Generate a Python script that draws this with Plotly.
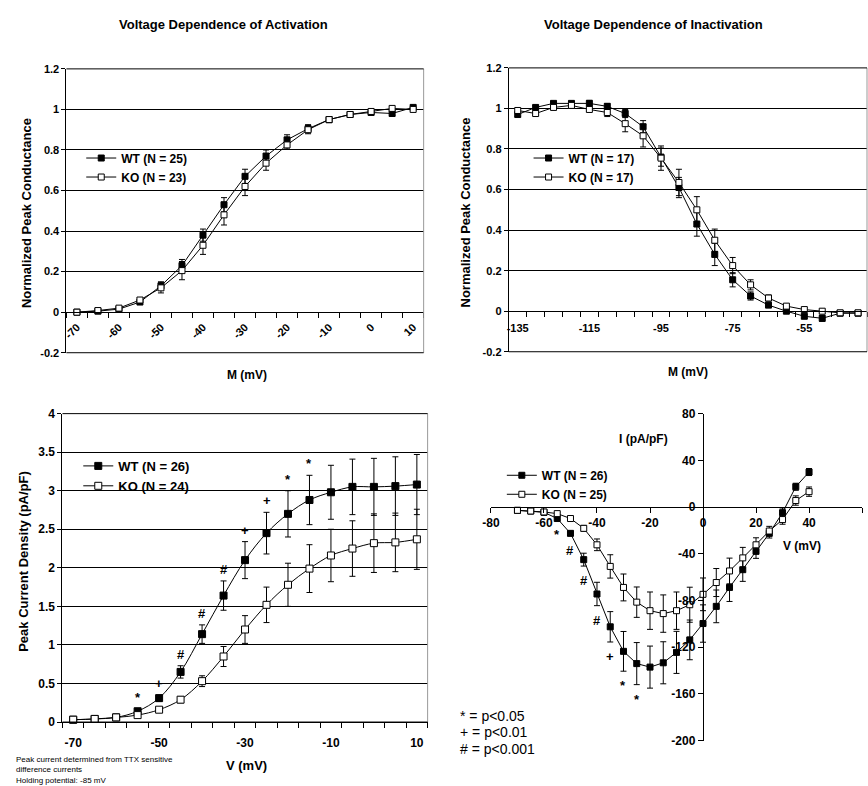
import plotly.graph_objects as go

W, H = 868, 786
def fx(p): return p / W
def fy(p): return 1 - p / H

FONT = "Liberation Sans"

# ---------------- data ----------------
# Panel 1: activation
act_v = [-70, -65, -60, -55, -50, -45, -40, -35, -30, -25, -20, -15, -10, -5, 0, 5, 10]
act_wt = [0.0, 0.005, 0.015, 0.05, 0.13, 0.23, 0.38, 0.53, 0.67, 0.77, 0.85, 0.905, 0.95, 0.975, 0.985, 0.98, 1.01]
act_wt_err = [0.0, 0.003, 0.005, 0.01, 0.02, 0.03, 0.03, 0.035, 0.035, 0.03, 0.025, 0.02, 0.015, 0.01, 0.01, 0.01, 0.01]
act_ko = [0.0, 0.008, 0.02, 0.06, 0.12, 0.205, 0.33, 0.48, 0.62, 0.735, 0.825, 0.9, 0.95, 0.975, 0.99, 1.005, 1.0]
act_ko_err = [0.0, 0.003, 0.005, 0.01, 0.025, 0.045, 0.045, 0.05, 0.045, 0.035, 0.02, 0.02, 0.015, 0.01, 0.01, 0.01, 0.01]
act_ticks = [-70, -60, -50, -40, -30, -20, -10, 0, 10]

# Panel 2: inactivation
inact_v = [-135, -130, -125, -120, -115, -110, -105, -100, -95, -90, -85, -80, -75, -70, -65, -60, -55, -50, -45, -40]
inact_wt = [0.97, 1.005, 1.025, 1.025, 1.025, 1.01, 0.975, 0.91, 0.76, 0.61, 0.43, 0.28, 0.155, 0.075, 0.03, 0.0, -0.025, -0.035, -0.01, -0.01]
inact_wt_err = [0.01, 0.01, 0.01, 0.01, 0.015, 0.015, 0.02, 0.03, 0.045, 0.05, 0.06, 0.055, 0.035, 0.02, 0.01, 0.01, 0.01, 0.015, 0.01, 0.005]
inact_ko = [0.99, 0.975, 1.005, 1.015, 0.995, 0.98, 0.925, 0.865, 0.755, 0.635, 0.5, 0.35, 0.225, 0.13, 0.065, 0.025, 0.008, 0.0, -0.008, -0.008]
inact_ko_err = [0.01, 0.01, 0.01, 0.01, 0.01, 0.02, 0.04, 0.055, 0.06, 0.065, 0.065, 0.055, 0.04, 0.025, 0.015, 0.01, 0.01, 0.01, 0.005, 0.005]
inact_ticks = [-135, -115, -95, -75, -55]

# Panel 3: peak current density
dens_v = [-70, -65, -60, -55, -50, -45, -40, -35, -30, -25, -20, -15, -10, -5, 0, 5, 10]
dens_wt = [0.03, 0.04, 0.06, 0.14, 0.31, 0.65, 1.14, 1.64, 2.10, 2.45, 2.70, 2.88, 2.98, 3.05, 3.05, 3.06, 3.08]
dens_wt_err = [0.01, 0.01, 0.015, 0.03, 0.04, 0.08, 0.12, 0.19, 0.24, 0.27, 0.30, 0.32, 0.35, 0.36, 0.37, 0.38, 0.39]
dens_ko = [0.03, 0.04, 0.06, 0.09, 0.16, 0.29, 0.53, 0.85, 1.20, 1.52, 1.78, 1.99, 2.16, 2.25, 2.32, 2.33, 2.37]
dens_ko_err = [0.01, 0.01, 0.01, 0.02, 0.02, 0.04, 0.07, 0.13, 0.18, 0.23, 0.28, 0.31, 0.34, 0.36, 0.38, 0.38, 0.39]
dens_ticks = [-70, -50, -30, -10, 10]
dens_sig_v = [-55, -50, -45, -40, -35, -30, -25, -20, -15]
dens_sig = ["*", "+", "#", "#", "#", "+", "+", "*", "*"]

# Panel 4: I-V
iv_v = [-70, -65, -60, -55, -50, -45, -40, -35, -30, -25, -20, -15, -10, -5, 0, 5, 10, 15, 20, 25, 30, 35, 40]
iv_wt = [-2.8, -3.4, -4.5, -9.8, -22.5, -45, -74.4, -102.5, -123.5, -134, -137, -133.3, -124.4, -113.7, -99.7, -85, -68.8, -53.6, -37.9, -22.5, -4.8, 17.4, 30]
iv_wt_err = [1, 1, 1, 1.5, 2, 5.5, 10, 13, 17, 18, 18, 18, 18, 17, 16, 14, 12, 10, 6, 4, 4, 3, 3]
iv_ko = [-2.8, -3.4, -4.2, -5.6, -9.8, -18.2, -32.3, -50.8, -68.8, -81.4, -88.7, -91.2, -88.7, -83.6, -74.7, -64.6, -54.7, -43.5, -32.3, -20.5, -10.7, 5.6, 13.2]
iv_ko_err = [1, 1, 1, 1, 1.5, 2.5, 5, 10, 11.5, 13, 16, 16, 16, 15, 14, 12, 11, 9, 6, 4, 4, 4, 4]
iv_sig_v = [-55, -50, -45, -40, -35, -30, -25]
iv_sig = ["*", "#", "#", "#", "+", "*", "*"]

sig_key = ["* = p<0.05", "+ = p<0.01", "# = p<0.001"]

# ---------------- figure ----------------
fig = go.Figure()

def add_pair(xa, ya, leg, x, wt, wte, ko, koe, wt_name, ko_name, msize, shape="linear"):
    for (y, e, name, fill) in [(wt, wte, wt_name, "black"), (ko, koe, ko_name, "white")]:
        fig.add_trace(go.Scatter(
            x=x, y=y, name=name, mode="lines+markers",
            xaxis=xa, yaxis=ya, legend=leg,
            line=dict(color="black", width=1, shape=shape),
            marker=dict(symbol="square", size=msize, color=fill,
                        line=dict(color="black", width=1)),
            error_y=dict(type="data", array=e, visible=True, color="black",
                         thickness=1, width=3),
            cliponaxis=False,
        ))

add_pair("x", "y", "legend", act_v, act_wt, act_wt_err, act_ko, act_ko_err,
         "WT (N = 25)", "KO (N = 23)", 6)
add_pair("x2", "y2", "legend2", inact_v, inact_wt, inact_wt_err, inact_ko, inact_ko_err,
         "WT (N = 17)", "KO (N = 17)", 6)
add_pair("x3", "y3", "legend3", dens_v, dens_wt, dens_wt_err, dens_ko, dens_ko_err,
         "WT (N = 26)", "KO (N = 24)", 7, shape="spline")
add_pair("x4", "y4", "legend4", iv_v, iv_wt, iv_wt_err, iv_ko, iv_ko_err,
         "WT (N = 26)", "KO (N = 25)", 6)

def fmt(v):
    return "%g" % v

tickfont = dict(family=FONT, size=11, color="black", weight="bold")
tickfont12 = dict(family=FONT, size=12, color="black", weight="bold")

def bounds(cats):
    step = cats[1] - cats[0]
    return [c - step / 2 for c in cats] + [cats[-1] + step / 2]

act_b = bounds(act_v)
inact_b = bounds(inact_v)
dens_b = bounds(dens_v)

yv12 = [-0.2, 0, 0.2, 0.4, 0.6, 0.8, 1.0, 1.2]
yv3 = [0, 0.5, 1, 1.5, 2, 2.5, 3, 3.5, 4]
yv4 = [-200, -160, -120, -80, -40, 0, 40, 80]
xv4 = [-80, -60, -40, -20, 0, 20, 40, 60]

common_y = dict(showline=True, linecolor="black", linewidth=1, ticks="outside",
                ticklen=4, tickcolor="black", zeroline=False, showgrid=True,
                gridcolor="black", gridwidth=1, tickmode="array")

fig.update_layout(
    width=W, height=H, margin=dict(l=0, r=0, t=0, b=0),
    paper_bgcolor="white", plot_bgcolor="white",
    font=dict(family=FONT, color="black"),
    xaxis=dict(domain=[fx(58), fx(419)], range=[act_b[0], act_b[-1]],
               anchor="free", position=fy(311), showline=True, linecolor="black",
               tickmode="array", tickvals=act_ticks, ticktext=[fmt(v) for v in act_ticks],
               tickangle=-45, ticks="", tickfont=tickfont, showgrid=False, zeroline=False,
               ticklabelstandoff=3,
               minor=dict(tickmode="array", tickvals=act_b, ticks="outside", ticklen=5,
                          tickcolor="black", showgrid=False)),
    yaxis=dict(domain=[fy(352), fy(63)], range=[-0.2, 1.2], anchor="x",
               tickvals=yv12, ticktext=[fmt(v) for v in yv12], tickfont=tickfont, **common_y),
    xaxis2=dict(domain=[fx(505), fx(867)], range=[inact_b[0], inact_b[-1]],
                anchor="free", position=fy(310), showline=True, linecolor="black",
                tickmode="array", tickvals=inact_ticks, ticktext=[fmt(v) for v in inact_ticks],
                ticks="", tickfont=tickfont, showgrid=False, zeroline=False,
                ticklabelstandoff=6,
                minor=dict(tickmode="array", tickvals=inact_b, ticks="outside", ticklen=5,
                           tickcolor="black", showgrid=False)),
    yaxis2=dict(domain=[fy(351), fy(62)], range=[-0.2, 1.2], anchor="x2",
                tickvals=yv12, ticktext=[fmt(v) for v in yv12], tickfont=tickfont, **common_y),
    xaxis3=dict(domain=[fx(54), fx(423)], range=[dens_b[0], dens_b[-1]],
                anchor="y3", showline=True, linecolor="black",
                tickmode="array", tickvals=dens_ticks, ticktext=[fmt(v) for v in dens_ticks],
                ticks="", tickfont=tickfont12, showgrid=False, zeroline=False,
                ticklabelstandoff=10,
                minor=dict(tickmode="array", tickvals=dens_b, ticks="outside", ticklen=5,
                           tickcolor="black", showgrid=False)),
    yaxis3=dict(domain=[fy(728), fy(414)], range=[0, 4], anchor="x3",
                tickvals=yv3, ticktext=[fmt(v) for v in yv3], tickfont=tickfont12, **common_y),
    xaxis4=dict(domain=[fx(487), fx(862)], range=[-80, 60], anchor="free",
                position=fy(509), showline=True, linecolor="black", tickmode="array",
                tickvals=xv4, ticktext=[fmt(v) for v in xv4], ticks="outside", ticklen=5,
                tickcolor="black", tickfont=tickfont12, showgrid=False, zeroline=False),
    yaxis4=dict(domain=[fy(747), fy(414)], range=[-200, 80], anchor="free",
                position=fx(701), showline=True, linecolor="black", tickmode="array",
                tickvals=yv4, ticktext=[fmt(v) for v in yv4], ticks="outside", ticklen=5,
                tickcolor="black", tickfont=tickfont12, showgrid=False, zeroline=False),
)

legfont = dict(family=FONT, size=12, color="black", weight="bold")
legfont3 = dict(family=FONT, size=13, color="black", weight="bold")
fig.update_layout(
    legend=dict(x=fx(73), y=fy(139), xanchor="left", yanchor="top", font=legfont,
                bgcolor="rgba(0,0,0,0)"),
    legend2=dict(x=fx(525), y=fy(139), xanchor="left", yanchor="top", font=legfont,
                 bgcolor="rgba(0,0,0,0)"),
    legend3=dict(x=fx(70), y=fy(452), xanchor="left", yanchor="top", font=legfont3,
                 bgcolor="rgba(0,0,0,0)"),
    legend4=dict(x=fx(498), y=fy(462), xanchor="left", yanchor="top", font=legfont,
                 bgcolor="rgba(0,0,0,0)"),
)

# frame lines (plot-area borders)
for xa, ya in [("x", "y"), ("x2", "y2"), ("x3", "y3")]:
    fig.add_shape(type="line", xref=f"{xa} domain", yref=f"{ya} domain",
                  x0=1, x1=1, y0=0, y1=1, line=dict(color="#999999", width=1))
    fig.add_shape(type="line", xref=f"{xa} domain", yref=f"{ya} domain",
                  x0=0, x1=1, y0=1, y1=1, line=dict(color="black", width=1))
    fig.add_shape(type="line", xref=f"{xa} domain", yref=f"{ya} domain",
                  x0=0, x1=1, y0=0, y1=0, line=dict(color="black", width=1))

def ann(text, x, y, size, bold=True, xanchor="center", yanchor="middle", **kw):
    d = dict(text=text, x=x, y=y, xref="paper", yref="paper", showarrow=False,
             xanchor=xanchor, yanchor=yanchor,
             font=dict(family=FONT, size=size, color="black",
                       weight="bold" if bold else "normal"))
    d.update(kw)
    fig.add_annotation(**d)

ann("Voltage Dependence of Activation", fx(217), fy(18), 13)
ann("Voltage Dependence of Inactivation", fx(651), fy(18), 13)
ann("Normalized Peak Conductance", fx(17), fy(210), 13, textangle=-90)
ann("Normalized Peak Conductance", fx(461), fy(209), 13, textangle=-90)
ann("M (mV)", fx(240), fy(375), 12)
ann("M (mV)", fx(686), fy(372), 12)
ann("Peak Current Density (pA/pF)", fx(15), fy(564), 13, textangle=-90)
ann("V (mV)", fx(240), fy(772), 13)
ann("I (pA/pF)", fx(641), fy(440), 12)
ann("V (mV)", fx(801), fy(549), 12)
ann("Peak current determined from TTX sensitive<br>difference currents<br>Holding potential: -85 mV",
    fx(5), fy(777), 8, bold=False, xanchor="left", align="left")
for i, s in enumerate(sig_key):
    ann(s, fx(454), fy(722 + 16.5 * i), 14, bold=False, xanchor="left", align="left")

# significance markers
wt_top3 = {v: y + e for v, y, e in zip(dens_v, dens_wt, dens_wt_err)}
for v, s in zip(dens_sig_v, dens_sig):
    fig.add_annotation(x=v, y=wt_top3[v], xref="x3", yref="y3", text=s, showarrow=False,
                       yanchor="bottom", yshift=2,
                       font=dict(family=FONT, size=13, color="black", weight="bold"))
wt_bot4 = {v: y - e for v, y, e in zip(iv_v, iv_wt, iv_wt_err)}
for v, s in zip(iv_sig_v, iv_sig):
    fig.add_annotation(x=v, y=wt_bot4[v], xref="x4", yref="y4", text=s, showarrow=False,
                       yanchor="top", yshift=-5,
                       font=dict(family=FONT, size=13, color="black", weight="bold"))

fig.write_html("out.html")
